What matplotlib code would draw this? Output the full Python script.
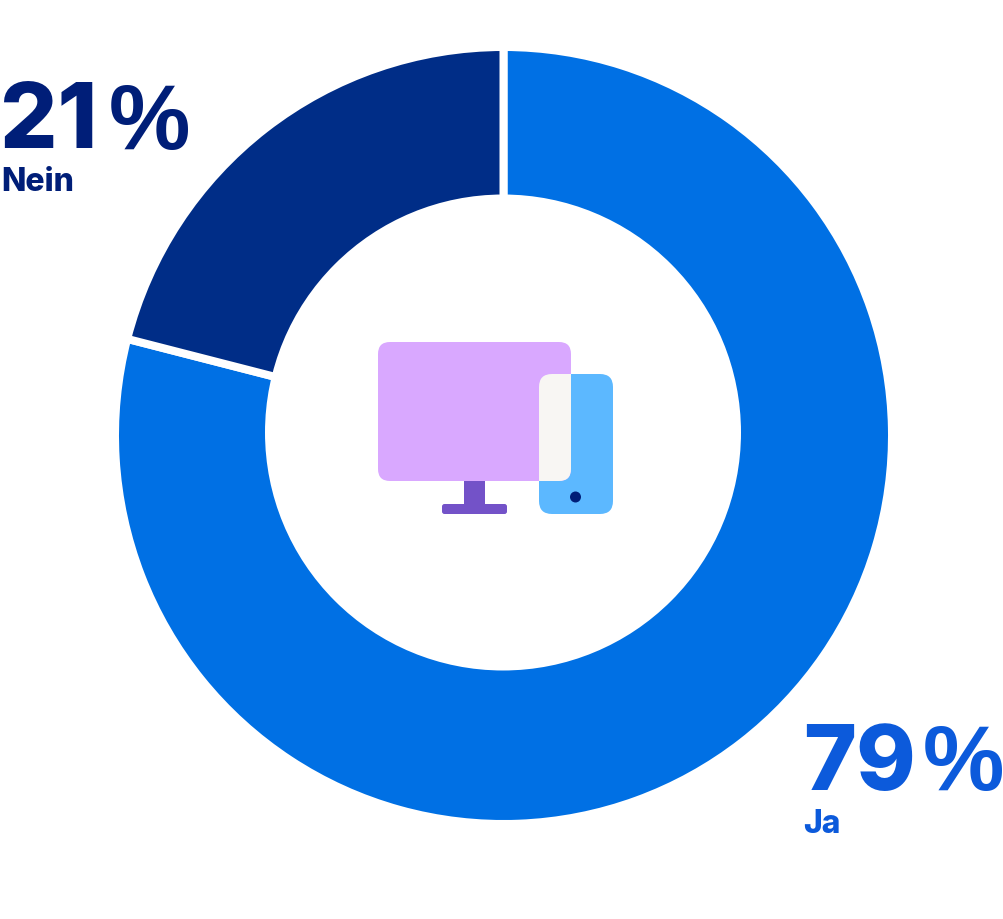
import matplotlib
matplotlib.use("Agg")
import matplotlib.pyplot as plt
from matplotlib.patches import FancyBboxPatch, Circle, Rectangle

labels = ["Ja", "Nein"]
values = [79, 21]
colors = ["#0070E4", "#002D87"]
text_colors = ["#0C5ADB", "#001E78"]

W, H = 1004, 919

def Y(y):
    return H - y

def rounded(ax, x0, y0, x1, y1, r, color, z=3):
    p = FancyBboxPatch((x0 + r, Y(y1) + r), x1 - x0 - 2 * r, y1 - y0 - 2 * r,
                       boxstyle="round,pad=%f,rounding_size=%f" % (r, r),
                       fc=color, ec="none", zorder=z)
    ax.add_patch(p)
    return p

fig = plt.figure(figsize=(W / 100, H / 100), dpi=100)
ax = fig.add_axes([0, 0, 1, 1])

# ring, white edges leave the gaps between the two parts
ax.pie(values, colors=colors, startangle=90, counterclock=False,
       center=(503.5, Y(435.5)), radius=388.5, frame=True,
       wedgeprops=dict(width=200, edgecolor="white", linewidth=5.76))
ax.add_patch(Circle((503, Y(432.5)), 238, fc="white", ec="none", zorder=2))
ax.set_xlim(0, W)
ax.set_ylim(0, H)
ax.set_aspect("equal")
ax.axis("off")

# device icon in the middle
rounded(ax, 539, 374, 613, 514, 13, "#5CB8FF", z=3)
screen = rounded(ax, 378, 342, 571, 481, 12, "#D9A8FF", z=4)
overlap = rounded(ax, 539, 374, 613, 514, 13, "#F8F6F3", z=5)
overlap.set_clip_path(screen)
ax.add_patch(Rectangle((464, Y(506)), 21, 26, fc="#7352C8", ec="none", zorder=3))
rounded(ax, 442, 504, 507, 514, 2.5, "#7352C8", z=3)
ax.add_patch(Circle((575.5, Y(497)), 5.5, fc="#001E78", ec="none", zorder=6))

font = "Inter"
# number, percent sign and label for each part
for i, x_num, x_pct, base, x_lab, base_lab in [(1, 0, 108.5, 148.5, 1, 191),
                                               (0, 803, 922.5, 790, 803, 833)]:
    col = text_colors[i]
    ax.text(x_num, Y(base), f"{values[i]}", family=font, weight=800, fontsize=65,
            color=col, ha="left", va="baseline")
    ax.text(x_pct, Y(base), "%", family="Liberation Sans", weight="bold", fontsize=66,
            color=col, ha="left", va="baseline")
    ax.text(x_lab, Y(base_lab), labels[i], family=font, weight=800, fontsize=23,
            color=col, ha="left", va="baseline")

fig.savefig("out.png", dpi=100, facecolor="white")
